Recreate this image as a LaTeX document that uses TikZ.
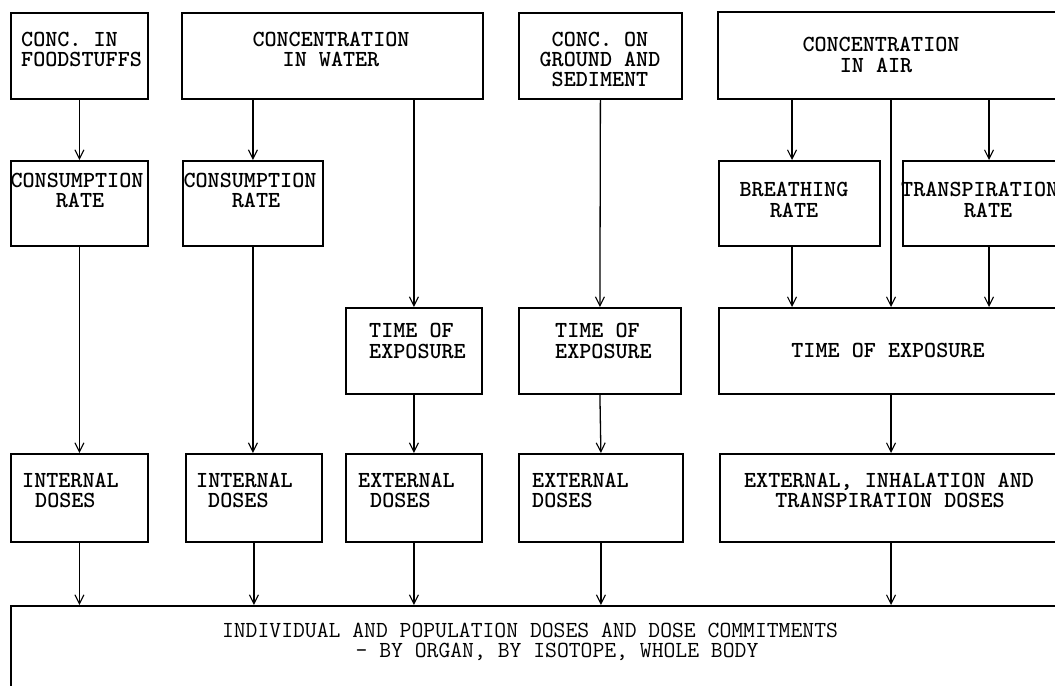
\documentclass[tikz,border=0pt]{standalone}
\usetikzlibrary{arrows.meta}
\begin{document}
\begin{tikzpicture}[x=1bp,y=-1bp,
  box/.style={draw=black, line width=1.8bp, rectangle, inner sep=0pt, anchor=north west},
  arr/.style={draw=black, line width=1.3bp, -{Straight Barb[length=9bp,width=9bp,line width=1.1bp]}},
  tx/.style={inner sep=0pt, text height=14bp, text depth=1bp, font=\ttfamily\bfseries\fontsize{23bp}{20bp}\selectfont},
  tl/.style={tx, anchor=base west},
  tc/.style={tx, anchor=base},
  tlight/.style={tc, font=\ttfamily\mdseries\fontsize{23bp}{20bp}\selectfont}]
\clip (0,0) rectangle (1055,686);
\fill[white] (0,0) rectangle (1055,686);
% row 1
\node[box, minimum width=137bp, minimum height=86bp] (A) at (10,12) {};
\node[box, minimum width=301bp, minimum height=86bp] (B) at (181,12) {};
\node[box, minimum width=163bp, minimum height=86bp] (C) at (518,12) {};
\node[box, minimum width=360bp, minimum height=87bp] (D) at (717,11) {};
% row 2
\node[box, minimum width=137bp, minimum height=85bp] (CR1) at (10,160) {};
\node[box, minimum width=140bp, minimum height=85bp] (CR2) at (182,160) {};
\node[box, minimum width=161bp, minimum height=85bp] (BR) at (718,160) {};
\node[box, minimum width=175bp, minimum height=85bp] (TR) at (902,160) {};
% row 3
\node[box, minimum width=136bp, minimum height=86bp] (T1) at (345,307) {};
\node[box, minimum width=162bp, minimum height=86bp] (T2) at (518,307) {};
\node[box, minimum width=360bp, minimum height=86bp] (T3) at (718,307) {};
% row 4
\node[box, minimum width=137bp, minimum height=88bp] (D1) at (10,453) {};
\node[box, minimum width=136bp, minimum height=88bp] (D2) at (185,453) {};
\node[box, minimum width=136bp, minimum height=88bp] (D3) at (345,453) {};
\node[box, minimum width=164bp, minimum height=88bp] (D4) at (518,453) {};
\node[box, minimum width=360bp, minimum height=88bp] (D5) at (719,453) {};
% row 5
\node[box, minimum width=1070bp, minimum height=110bp] (BIG) at (10,605) {};
% x positions of the air column connectors
\coordinate (xb) at (792,0);
\coordinate (xm) at (891,0);
\coordinate (xt) at (989,0);
% texts
\node[tl] (tA1) at (21,47) {CONC. IN};
\node[tl] (tA2) at (21,67) {FOODSTUFFS};
\node[tc] (tB1) at (331,47) {CONCENTRATION};
\node[tc] (tB2) at (331,67) {IN WATER};
\node[tc] (tC1) at (600,47) {CONC. ON};
\node[tc] (tC2) at (600,67) {GROUND AND};
\node[tc] (tC3) at (600,87) {SEDIMENT};
\node[tc] (tD1) at (881,52) {CONCENTRATION};
\node[tc] (tD2) at (876,73) {IN AIR};
\node[tc] (tCR11) at (77,188) {CONSUMPTION};
\node[tc] (tCR12) at (80,208) {RATE};
\node[tc] (tCR21) at (250,188) {CONSUMPTION};
\node[tc] (tCR22) at (256,208) {RATE};
\node[tc] (tBR1) at (794,197) {BREATHING};
\node[tc] (tBR2) at (794,217) {RATE};
\node[tl] (tTR1) at (901,197) {TRANSPIRATION};
\node[tc] (tTR2) at (988,217) {RATE};
\node[tl] (tT11) at (369,337) {TIME OF};
\node[tl] (tT12) at (369,358) {EXPOSURE};
\node[tl] (tT21) at (555,337) {TIME OF};
\node[tl] (tT22) at (555,358) {EXPOSURE};
\node[tc] (tT3) at (888,357) {TIME OF EXPOSURE};
\node[tl] (tD11) at (22,487) {INTERNAL};
\node[tl] (tD12) at (35,507) {DOSES};
\node[tl] (tD21) at (196,487) {INTERNAL};
\node[tl] (tD22) at (208,507) {DOSES};
\node[tl] (tD31) at (358,487) {EXTERNAL};
\node[tl] (tD32) at (370,507) {DOSES};
\node[tl] (tD41) at (532,487) {EXTERNAL};
\node[tl] (tD42) at (532,507) {DOSES};
\node[tc] (tD51) at (889,487) {EXTERNAL, INHALATION AND};
\node[tc] (tD52) at (890,507) {TRANSPIRATION DOSES};
\node[tlight] (tBIG1) at (530,637) {INDIVIDUAL AND POPULATION DOSES AND DOSE COMMITMENTS};
\node[tlight] (tBIG2) at (557,657) {- BY ORGAN, BY ISOTOPE, WHOLE BODY};
% connectors
\draw[arr] (A.south) -- (CR1.north);
\draw[arr] (CR1.south) -- (D1.north);
\draw[arr] (CR2.north |- B.south) -- (CR2.north);
\draw[arr] (CR2.south) -- (CR2.south |- D2.north);
\draw[arr] (T1.north |- B.south) -- (T1.north);
\draw[arr] (T1.south) -- (D3.north);
\draw[arr] (C.south) -- (T2.north);
\draw[arr] (T2.south) -- (D4.north);
\draw[arr] (xb |- D.south) -- (xb |- BR.north);
\draw[arr] (xm |- D.south) -- (xm |- T3.north);
\draw[arr] (xt |- D.south) -- (xt |- TR.north);
\draw[arr] (xb |- BR.south) -- (xb |- T3.north);
\draw[arr] (xt |- TR.south) -- (xt |- T3.north);
\draw[arr] (xm |- T3.south) -- (xm |- D5.north);
\draw[arr] (D1.south) -- (D1.south |- BIG.north);
\draw[arr] (D2.south) -- (D2.south |- BIG.north);
\draw[arr] (D3.south) -- (D3.south |- BIG.north);
\draw[arr] (D4.south) -- (D4.south |- BIG.north);
\draw[arr] (xm |- D5.south) -- (xm |- BIG.north);
\end{tikzpicture}
\end{document}
